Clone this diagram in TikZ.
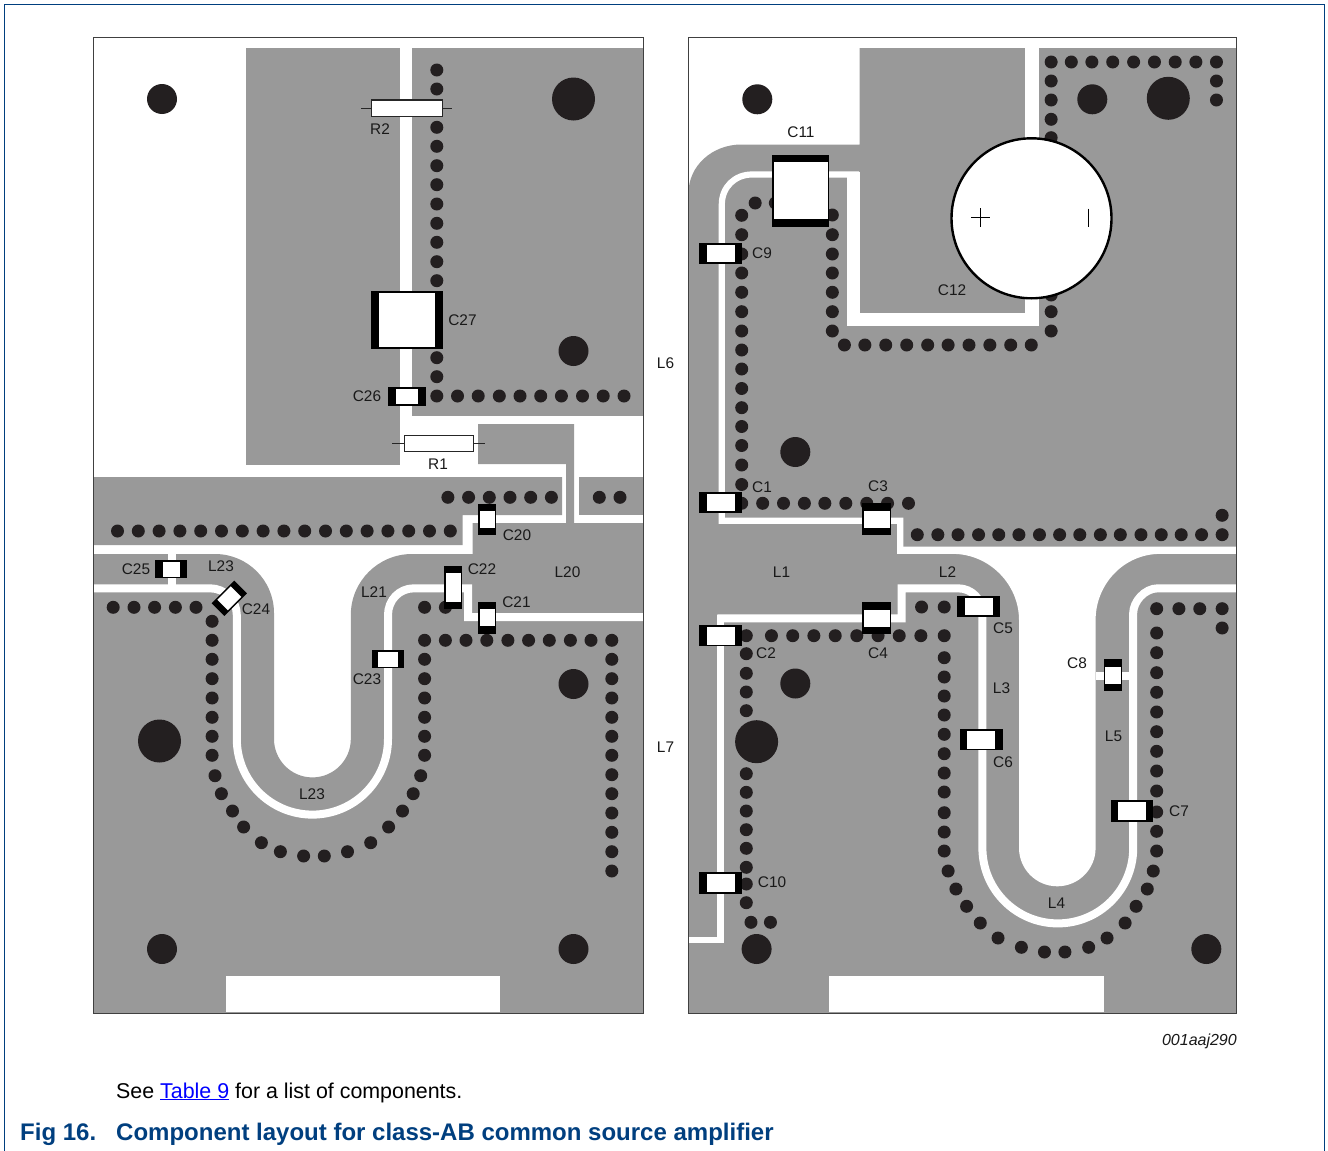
\documentclass[tikz,border=0pt]{standalone}
\usepackage{fontspec}
\setmainfont{Liberation Sans}
\definecolor{pcb}{HTML}{999999}
\definecolor{via}{HTML}{231F20}
\definecolor{nxp}{HTML}{003F7F}
\newcommand{\capbox}[8]{\fill[black] (#1,#2) rectangle (#3,#4);\fill[white] (#5,#6) rectangle (#7,#8);}
\tikzset{
 lab/.style={font=\fontsize{15.4}{15.4}\selectfont,text=black!90,inner sep=0pt,anchor=center},
 trace/.style={draw=white,line width=8pt,miter limit=10},
 thintrace/.style={draw=white,line width=6.2pt},
 frameline/.style={draw=black!75,line width=1pt},
 leadline/.style={draw=black!85,line width=1pt},
 resbody/.style={draw=black!85,fill=white,line width=1.2pt}
}
\begin{document}
\begin{tikzpicture}[x=1pt,y=-1pt]
\useasboundingbox (0,0) rectangle (1328,1151);
\fill[white] (0,0) rectangle (1328,1151);
% outer frame
\draw[nxp,line width=1pt] (4,1151) -- (4,4.5) -- (1324,4.5) -- (1324,1151);
%%%%%%%%%%%%% LEFT PANEL
\fill[pcb] (246,48) rectangle (400,465);
\fill[pcb] (412,48) rectangle (643,416);
\fill[pcb] (93,477) -- (562,477) -- (562,515) -- (462.5,515) -- (462.5,545) -- (93,545) -- cycle;
\fill[pcb] (578.6,477) rectangle (643,515);
\fill[pcb] (93,554) -- (215,554) .. controls (247.6,554) and (274,580.4) .. (274,613)
  -- (274,739) .. controls (274,760.2) and (291.2,777.4) .. (312.4,777.4)
  .. controls (333.6,777.4) and (350.8,760.2) .. (350.8,739)
  -- (350.8,615) .. controls (350.8,581.3) and (378.3,554) .. (412,554)
  -- (472.5,554) -- (472.5,523) -- (566,523) -- (566,464) -- (478,464) -- (478,424) -- (574,424)
  -- (574,523) -- (643,523) -- (643,1013) -- (93,1013) -- cycle;
\fill[white] (226,976) rectangle (500,1012);
\fill[white] (167.5,554) rectangle (175.7,585);
\draw[trace] (93,588.3) -- (210,588.3) .. controls (224.8,588.3) and (236.8,600.2) .. (236.8,615)
  -- (236.8,739) .. controls (236.8,780.75) and (270.65,814.6) .. (312.4,814.6)
  .. controls (354.15,814.6) and (388,780.75) .. (388,739)
  -- (388,615) .. controls (388,600.2) and (399.2,588.3) .. (414,588.3)
  -- (468.2,588.3) -- (468.2,617.2) -- (643,617.2);
% vias left
\foreach \x/\y in {
 436.8/70,436.8/89,436.8/127.3,436.8/146.3,436.8/165.7,436.8/184.7,436.8/204,436.8/223.3,436.8/242.3,436.8/261.7,436.8/280.7,436.8/357.7,436.8/376.7,
 436.8/396,457.5/396,478.2/396,499.3/396,520/396,540.7/396,561.4/396,582.5/396,603.2/396,624/396,
 447.9/497.3,468.6/497.3,489.3/497.3,510/497.3,530.7/497.3,551.4/497.3,599.3/497.3,620/497.3,
 117.5/531,138.3/531,159.1/531,179.9/531,200.7/531,221.5/531,242.3/531,263.1/531,283.9/531,304.7/531,325.5/531,346.3/531,367.1/531,387.9/531,408.7/531,429.5/531,450.3/531,
 113.2/607.3,134/607.3,154.6/607.3,175.4/607.3,196/607.3,
 212.1/621.3,212.1/640.3,212.1/659.3,212.1/678.7,212.1/698,212.1/717.3,212.1/736.3,212.1/755.3,
 215/775.7,221.4/793.7,232.5/811,243.6/827,261.4/842.7,280.4/851.7,303.6/856,324.3/856,347.5/851.7,370.7/842.7,388.6/827,402.5/811,413.2/793.7,420.7/775.7,
 424.6/755.3,424.6/736.3,424.6/717.3,424.6/698,424.6/678.7,424.6/659.3,
 424.6/640.3,445.4/640.3,466/640.3,486.8/640.3,507.9/640.3,528.6/640.3,549.3/640.3,570.4/640.3,591/640.3,611.8/640.3,
 424.6/607.3,445.4/607.3,
 611.8/659.3,611.8/678.7,611.8/698,611.8/717.3,611.8/736.3,611.8/755.3,611.8/774.7,611.8/793.7,611.8/813,611.8/832.3,611.8/851.7,611.8/871
 } \fill[via] (\x,\y) circle (6.5pt);
\foreach \x/\y/\r in {162/99/15,573.5/99/21.5,573.5/351/15,159.5/741/21.5,573.5/684/15,162/949/15,573.5/949/15}
  \fill[via] (\x,\y) circle (\r pt);
% components left
\draw[leadline] (361.4,108) -- (451.8,108);
\draw[resbody] (371.5,100) rectangle (442.5,116.5);
\draw[leadline] (392,443.3) -- (485.4,443.3);
\draw[resbody] (404.5,435.3) rectangle (473.5,451.5);
\capbox{371}{291.3}{443}{349}{378.6}{293}{435.4}{346.7}
\capbox{388.2}{387}{425.7}{405.7}{396}{388.5}{417.9}{404.2}
\capbox{478.2}{503.7}{496.4}{535.3}{479.6}{510.7}{495}{528}
\capbox{478.2}{602}{496.4}{633.7}{479.6}{609}{495}{626.3}
\capbox{444}{566.3}{462}{608.7}{445.5}{573.3}{460.5}{602}
\capbox{372}{650}{404}{668.3}{378.2}{651.5}{397.9}{666.8}
\capbox{155.4}{560}{187.1}{578}{162.5}{561.5}{180.4}{576.5}
\begin{scope}[shift={(229.3,598.3)},rotate=45]
 \capbox{-16}{-9}{16}{9}{-9.5}{-7.5}{9.5}{7.5}
\end{scope}
\draw[frameline] (93,37) rectangle (643,1013);
%%%%%%%%%%%%% RIGHT PANEL
\fill[pcb] (688.5,193) .. controls (688.5,166) and (712,144.5) .. (741.5,144.5)
  -- (859.5,144.5) -- (859.5,48) -- (1236,48) -- (1236,1013) -- (688,1013) -- cycle;
\fill[white] (897,546.5) -- (1236,546.5) -- (1236,553.9) -- (1160,553.9)
  .. controls (1124,553.9) and (1095.6,584) .. (1095.6,620) -- (1095.6,848)
  .. controls (1095.6,869.15) and (1078.45,886.3) .. (1057.3,886.3)
  .. controls (1036.15,886.3) and (1019,869.15) .. (1019,848) -- (1019,620)
  .. controls (1019,584) and (989,553.9) .. (953,553.9) -- (897,553.9) -- cycle;
\fill[white] (829.3,976) rectangle (1103.5,1012);
\fill[white] (846.5,171.5) rectangle (859.8,325.7);
\fill[white] (846.5,313.3) rectangle (1038.5,325.7);
\fill[white] (1024.7,48) rectangle (1038.5,325.7);
\fill[white] (1095.6,672) rectangle (1129.3,680);
\draw[thintrace] (900.2,550) -- (900.2,520.7) -- (721.8,520.7) -- (721.8,204.5)
  .. controls (721.8,187) and (735,174.5) .. (752,174.5) -- (859,174.5);
\draw[thintrace] (688,940) -- (720.5,940) -- (720.5,618.3) -- (900,618.3);
\draw[trace] (717.4,618.3) -- (901.5,618.3) -- (901.5,588.3) -- (958,588.3)
  .. controls (971.7,588.3) and (982.4,599.3) .. (982.4,613) -- (982.4,848)
  .. controls (982.4,889.6) and (1016.2,923.4) .. (1057.8,923.4)
  .. controls (1099.4,923.4) and (1133.2,889.6) .. (1133.2,848) -- (1133.2,613)
  .. controls (1133.2,602) and (1144.3,588.3) .. (1158,588.3) -- (1236,588.3);
% vias right
\foreach \x/\y in {
 1051.7/62,1071.9/62,1092.5/62,1113.4/62,1134.3/62,1155.2/62,1176/62,1196.7/62,1217.3/62,1217.3/81,1217.3/100,
 1051.7/81,1051.7/100,1051.7/119.3,1051.7/137.7,1051.7/295,1051.7/311.7,1051.7/331,
 844.6/345,865.1/345,886/345,907/345,928/345,948.5/345,969.4/345,990.3/345,1011.2/345,1031.8/345,
 832.5/215,832.5/234.7,832.5/254,832.5/273,832.5/292.3,832.5/311.7,832.5/331,
 755.2/203,775.4/203,
 741.7/215.3,741.7/234.7,741.7/254,741.7/273,741.7/292.3,741.7/311.7,741.7/331,741.7/350,741.7/369,741.7/388.5,741.7/407.7,741.7/426.5,741.7/445.5,741.7/465,741.7/484.5,
 741.7/503.3,762.7/503.3,783.6/503.3,804.5/503.3,825/503.3,846/503.3,867/503.3,887.8/503.3,908.8/503.3,
 917.6/534.7,938.2/534.7,958.4/534.7,979/534.7,999.2/534.7,1019.4/534.7,1040/534.7,1060.2/534.7,1080.4/534.7,1101/534.7,1121/534.7,1141.7/534.7,1162/534.7,1182/534.7,1202.4/534.7,1223/534.7,1223/515.3,
 921.9/607,944.6/607,
 746.3/635.7,771.5/635.7,792.8/635.7,814/635.7,835.4/635.7,857/635.7,878.3/635.7,899.5/635.7,921.2/635.7,944.6/635.7,
 944.6/657.7,944.6/677,944.6/696,944.6/715,944.6/734.3,944.6/753.7,944.6/773,944.6/792,944.6/812.7,944.6/832,944.6/851,
 948.5/871,956.3/889,967/906.3,980.7/923,998.5/938,1021.9/947.3,1045/952,1065.5/952,1089.3/947.3,1107.7/938,1125.8/923,1136.8/906.3,1148/889,1154/871,
 1157.4/851,1157.4/831.3,1157.4/812,1157.4/791,1157.4/771,1157.4/751.3,1157.4/731.7,1157.4/712,1157.4/692.3,1157.4/672.7,1157.4/652.7,1157.4/633,
 1157.4/608.7,1179.7/608.7,1200.6/608.7,1223/608.7,1223/628,
 746.3/653.7,746.3/673.3,746.3/692,746.3/710.7,746.3/773.7,746.3/792.3,746.3/811,746.3/829.7,746.3/848.3,746.3/867.3,746.3/884,746.3/902.7,751/922.3,770.5/922.3
 } \fill[via] ({\x-0.0018*(\x-741)},\y) circle (6.5pt);
\foreach \x/\y/\r in {757.3/99.3/15,1092.3/99.3/15,1168.3/98.3/21.5,795.3/452/15,795.3/683.5/15,756.6/741.7/21.5,756.6/949/15,1206.3/949/15}
  \fill[via] (\x,\y) circle (\r pt);
% components right
\capbox{699}{243}{742}{264}{706.7}{244.7}{735.3}{262}
\capbox{699}{492.3}{742}{513}{706.7}{494}{735.3}{511.3}
\capbox{699}{625.3}{742}{646.3}{706.7}{627}{735.3}{644.6}
\capbox{699}{872.3}{742}{893.7}{706.7}{874}{735.3}{892}
\capbox{862}{503.3}{891.4}{535.3}{864}{510.7}{889.6}{528}
\capbox{862}{602.3}{891.4}{634.3}{864}{609.7}{889.6}{627}
\capbox{957.3}{596}{1000.3}{617}{965}{597.7}{993}{615.3}
\capbox{960}{729.3}{1002.6}{750.3}{967.3}{731}{995.3}{748.6}
\capbox{1110.6}{800.3}{1153.4}{821.7}{1117.6}{802}{1146}{820}
\capbox{1103.6}{659}{1122.4}{691.3}{1105.2}{666.7}{1121}{684.3}
\capbox{772}{154.7}{829.3}{226.7}{773.7}{162}{828}{219.3}
\node[circle,draw=black,fill=white,line width=2.4pt,minimum size=160pt,inner sep=0pt] (C12body) at (1031.5,218.3) {};
\draw[black,line width=1pt] (971,217.7) -- (990,217.7) (980.6,208.2) -- (980.6,227.2) (1088.4,208.7) -- (1088.4,226.7);
\draw[frameline] (688,37) rectangle (1236,1013);
%%%%%%%%%%%%% LABELS
\foreach \n/\t/\x/\y in {
 a/R2/380/129.5,b/C27/462.5/320.5,c/C26/367/396.5,d/R1/438/464.5,e/C20/517/535.5,f/C22/482/569.5,g/C21/516.5/602.5,h/L20/567.5/572.5,i/L21/374/592.5,j/L23/221/566.5,k/C25/136/569.5,l/C24/256/609.5,m/C23/367/679.5,n/L23/312/794.5,o/L6/665.5/363.5,p/L7/665.5/747.5,
 q/C11/801/132.5,r/C9/762/253.5,s/C12/952/290.5,t/C1/762/487.5,u/C3/878/486.5,v/L1/781.5/572.5,w/L2/947.5/572.5,x/C2/766/653.5,y/C4/878/653.5,z/C5/1003/628.5,aa/L3/1001.5/688.5,ab/C6/1003/762.5,ac/C8/1077/663.5,ad/L5/1113.5/736.5,ae/C7/1179/811.5,af/C10/772/882.5,ag/L4/1056.5/903.5
 } \node[lab] (lab\n) at (\x,\y) {\t};
\node[font=\fontsize{16}{16}\selectfont\itshape,anchor=east,inner sep=0pt,text=black!90] (code) at (1237,1041.5) {001aaj290};
\node[font=\fontsize{21.4}{21.4}\selectfont,anchor=base west,inner sep=0pt] (note) at (116,1098) {See \textcolor{blue}{\underline{Table 9}} for a list of components.};
\node[font=\fontsize{24}{24}\selectfont\bfseries,text=nxp,anchor=base west,inner sep=0pt] (figno) at (20,1140) {Fig 16.};
\node[font=\fontsize{24}{24}\selectfont\bfseries,text=nxp,anchor=base west,inner sep=0pt] (figt) at (116,1140) {Component layout for class-AB common source amplifier};
\end{tikzpicture}
\end{document}
